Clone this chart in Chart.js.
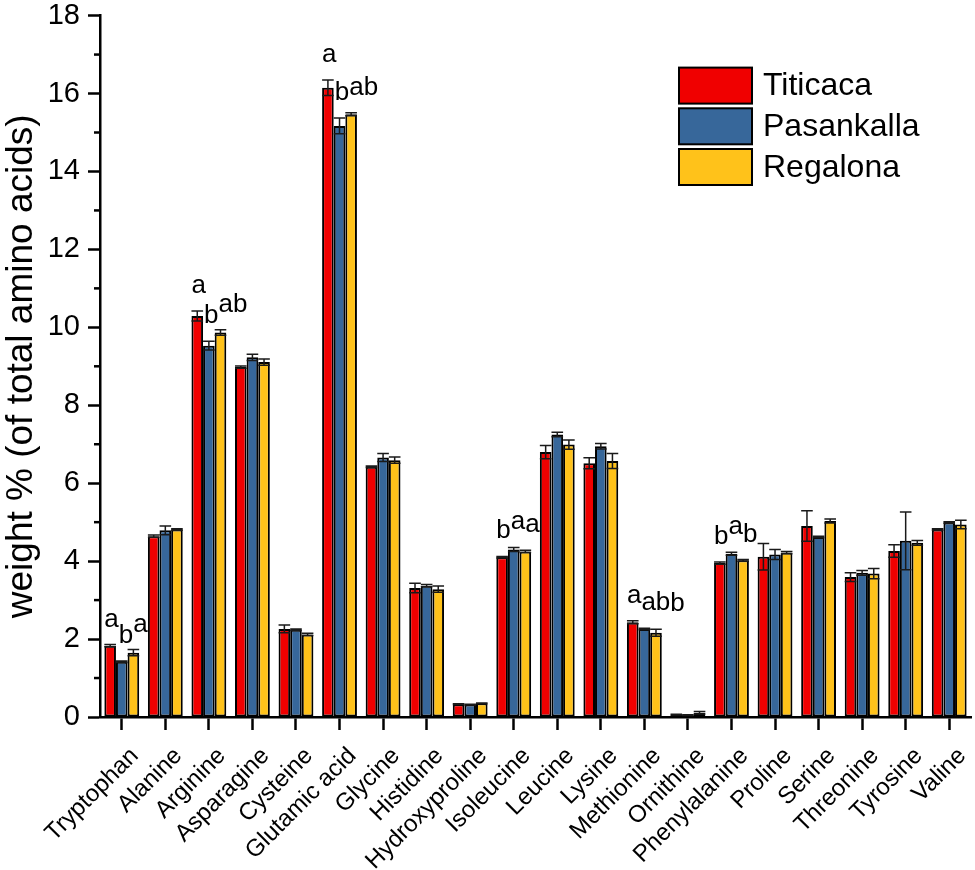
<!DOCTYPE html>
<html>
<head>
<meta charset="utf-8">
<script src="https://cdn.jsdelivr.net/npm/chart.js@4.4.1/dist/chart.umd.min.js"></script>
<style>
  body { margin: 0; background: #fff; }
  #wrap { width: 975px; height: 870px; }
</style>
</head>
<body>
<div id="wrap"><canvas id="aminoChart"></canvas></div>
<script>
const aminoAcids = ['Tryptophan', 'Alanine', 'Arginine', 'Asparagine', 'Cysteine', 'Glutamic acid',
    'Glycine', 'Histidine', 'Hydroxyproline', 'Isoleucine', 'Leucine', 'Lysine', 'Methionine',
    'Ornithine', 'Phenylalanine', 'Proline', 'Serine', 'Threonine', 'Tyrosine', 'Valine'];

const titicaca = [1.83, 4.64, 10.29, 8.98, 2.26, 16.15, 6.42, 3.31, 0.33, 4.10,
    6.80, 6.51, 2.43, 0.06, 3.95, 4.11, 4.90, 3.59, 4.26, 4.81];
const pasankalla = [1.42, 4.79, 9.53, 9.23, 2.24, 15.17, 6.66, 3.37, 0.32, 4.30,
    7.25, 6.95, 2.26, 0.05, 4.19, 4.17, 4.62, 3.70, 4.52, 4.99];
const regalona = [1.65, 4.81, 9.87, 9.11, 2.12, 15.47, 6.59, 3.28, 0.35, 4.25,
    6.99, 6.57, 2.16, 0.11, 4.02, 4.22, 5.03, 3.68, 4.47, 4.94];

const titicacaErr = [0.03, 0.03, 0.13, 0.03, 0.10, 0.20, 0.02, 0.12, 0.01, 0.02,
    0.17, 0.14, 0.04, 0.01, 0.03, 0.34, 0.39, 0.11, 0.16, 0.02];
const pasankallaErr = [0.02, 0.11, 0.11, 0.08, 0.02, 0.20, 0.10, 0.03, 0.01, 0.05,
    0.06, 0.07, 0.02, 0.01, 0.04, 0.13, 0.02, 0.06, 0.74, 0.02];
const regalonaErr = [0.08, 0.02, 0.07, 0.08, 0.03, 0.04, 0.08, 0.08, 0.01, 0.03,
    0.12, 0.19, 0.09, 0.03, 0.02, 0.03, 0.05, 0.13, 0.06, 0.11];

const titicacaLetters = ['a', '', 'a', '', '', 'a', '', '', '', 'b',
    '', '', 'a', '', 'b', '', '', '', '', ''];
const pasankallaLetters = ['b', '', 'b', '', '', 'b', '', '', '', 'a',
    '', '', 'ab', '', 'a', '', '', '', '', ''];
const regalonaLetters = ['a', '', 'ab', '', '', 'ab', '', '', '', 'a',
    '', '', 'b', '', 'b', '', '', '', '', ''];

const yTicks = [0, 2, 4, 6, 8, 10, 12, 14, 16, 18];

const FONT = '"Liberation Sans", Arial, Helvetica, sans-serif';

// error bars + significance letters
const errorBarPlugin = {
    id: 'errorBars',
    afterDatasetsDraw(chart) {
        const ctx = chart.ctx;
        const y = chart.scales.y;
        const lastLetter = {};   // per category: right end + baseline of previous letter
        ctx.save();
        chart.data.datasets.forEach((ds, i) => {
            const meta = chart.getDatasetMeta(i);
            meta.data.forEach((bar, j) => {
                const v = ds.data[j];
                const e = ds.errors[j];
                const hi = y.getPixelForValue(v + e);
                const lo = y.getPixelForValue(v - e);
                const half = bar.width / 2;
                ctx.strokeStyle = '#1a1a1a';
                ctx.lineWidth = 1.5;
                ctx.beginPath();
                ctx.moveTo(bar.x, hi); ctx.lineTo(bar.x, lo);
                ctx.moveTo(bar.x - half, hi); ctx.lineTo(bar.x + half, hi);
                ctx.moveTo(bar.x - half, lo); ctx.lineTo(bar.x + half, lo);
                ctx.stroke();
                const letter = ds.letters[j];
                if (letter) {
                    ctx.fillStyle = '#000';
                    ctx.font = '26px ' + FONT;
                    ctx.textAlign = 'left';
                    ctx.textBaseline = 'alphabetic';
                    let lx = bar.x - half + i;
                    const ly = hi - 18;
                    const prev = lastLetter[j];
                    if (prev && Math.abs(prev.y - ly) < 20 && lx < prev.x) lx = prev.x;
                    ctx.fillText(letter, lx, ly);
                    lastLetter[j] = { x: lx + ctx.measureText(letter).width, y: ly };
                }
            });
        });
        ctx.restore();
    }
};

// minor ticks on the y axis
const minorTickPlugin = {
    id: 'minorTicks',
    afterDraw(chart) {
        const ctx = chart.ctx;
        const y = chart.scales.y;
        const x0 = chart.chartArea.left;
        ctx.save();
        ctx.strokeStyle = '#000';
        ctx.lineWidth = 2.5;
        for (let i = 0; i < yTicks.length - 1; i++) {
            const py = y.getPixelForValue((yTicks[i] + yTicks[i + 1]) / 2);
            ctx.beginPath();
            ctx.moveTo(x0 - 6, py); ctx.lineTo(x0, py);
            ctx.stroke();
        }
        ctx.restore();
    }
};

// boxed legend in the upper right corner
const boxLegendPlugin = {
    id: 'boxLegend',
    afterDraw(chart) {
        const ctx = chart.ctx;
        const left = chart.chartArea.right - 292;
        let top = chart.chartArea.top + 52;
        ctx.save();
        chart.data.datasets.forEach(ds => {
            ctx.fillStyle = ds.backgroundColor;
            ctx.fillRect(left, top, 73, 36);
            ctx.strokeStyle = '#000';
            ctx.lineWidth = 2;
            ctx.strokeRect(left, top, 73, 36);
            ctx.fillStyle = '#000';
            ctx.font = '32px ' + FONT;
            ctx.textAlign = 'left';
            ctx.textBaseline = 'middle';
            ctx.fillText(ds.label, left + 84, top + 19);
            top += 40.7;
        });
        ctx.restore();
    }
};

const ctx = document.getElementById('aminoChart').getContext('2d');

new Chart(ctx, {
    type: 'bar',
    data: {
        labels: aminoAcids,
        datasets: [{
            label: 'Titicaca',
            data: titicaca,
            errors: titicacaErr,
            letters: titicacaLetters,
            backgroundColor: '#f00000',
        }, {
            label: 'Pasankalla',
            data: pasankalla,
            errors: pasankallaErr,
            letters: pasankallaLetters,
            backgroundColor: '#37679a',
        }, {
            label: 'Regalona',
            data: regalona,
            errors: regalonaErr,
            letters: regalonaLetters,
            backgroundColor: '#ffc21a',
        }]
    },
    options: {
        responsive: true,
        maintainAspectRatio: false,
        animation: false,
        datasets: {
            bar: {
                borderColor: '#000',
                borderWidth: 2,
                borderSkipped: false,
                barPercentage: 1.0,
                categoryPercentage: 0.8
            }
        },
        layout: {
            padding: { top: 15.6, right: 4, left: 0, bottom: 0 }
        },
        scales: {
            x: {
                afterFit: s => {
                    s.height = 153;
                    s.paddingLeft = 0;
                    s.paddingRight = 0;
                },
                grid: {
                    display: true,
                    drawOnChartArea: false,
                    offset: false,
                    tickLength: 13,
                    tickWidth: 2.5,
                    tickColor: '#000'
                },
                border: { display: true, color: '#000', width: 2.5 },
                ticks: {
                    color: '#000',
                    font: { family: FONT, size: 24 },
                    minRotation: 45,
                    maxRotation: 45,
                    autoSkip: false,
                    padding: 12,
                    labelOffset: 13
                }
            },
            y: {
                min: 0,
                max: 18,
                afterFit: s => {
                    s.width = 100;
                    s.paddingTop = 0;
                    s.paddingBottom = 0;
                },
                afterBuildTicks: s => { s.ticks = yTicks.map(v => ({ value: v })); },
                grid: {
                    display: true,
                    drawOnChartArea: false,
                    tickLength: 12,
                    tickWidth: 2.5,
                    tickColor: '#000'
                },
                border: { display: true, color: '#000', width: 2.5 },
                ticks: {
                    color: '#000',
                    font: { family: FONT, size: 29 },
                    padding: 8
                },
                title: {
                    display: true,
                    text: 'weight % (of total amino acids)',
                    color: '#000',
                    font: { family: FONT, size: 37, lineHeight: 1.2 },
                    padding: { top: 0, bottom: 0 }
                }
            }
        },
        plugins: {
            legend: { display: false },
            tooltip: { enabled: false }
        }
    },
    plugins: [errorBarPlugin, minorTickPlugin, boxLegendPlugin]
});
</script>
</body>
</html>
